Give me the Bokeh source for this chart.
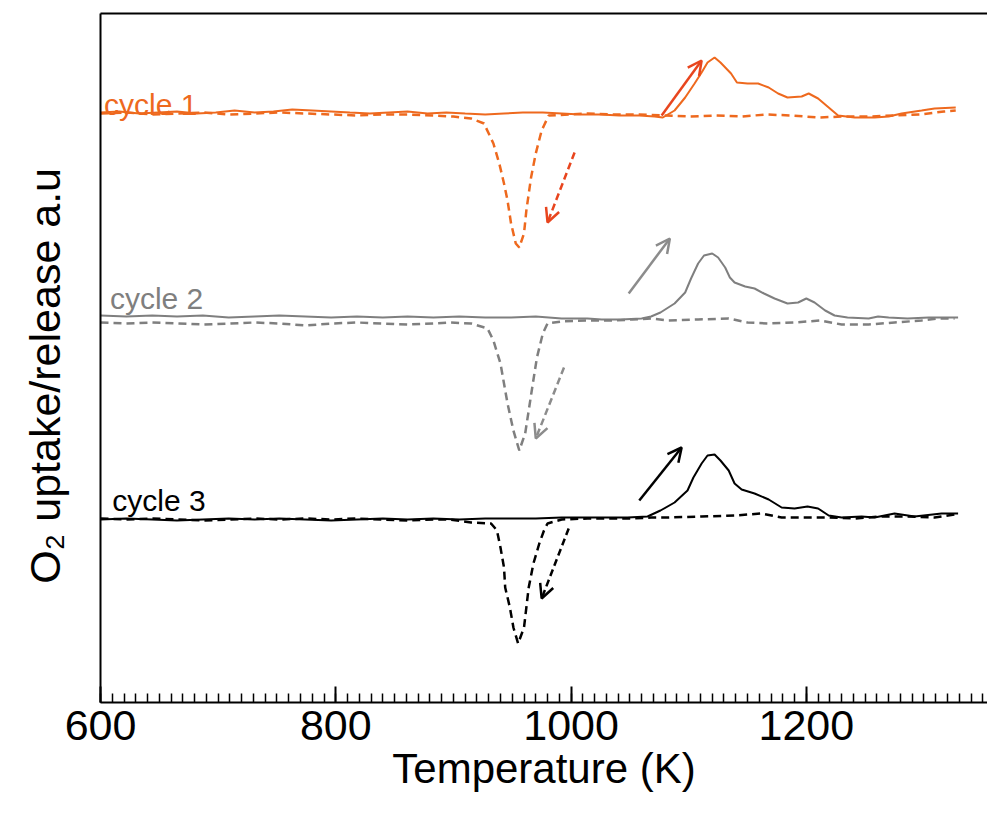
import numpy as np
from bokeh.plotting import figure
from bokeh.models import (Range1d, LinearAxis, SingleIntervalTicker, FixedTicker,
                          Label, Arrow, OpenHead)
from bokeh.embed import file_html
from bokeh.resources import INLINE

# ---------------- data (temperature in K, signal in a.u.) ----------------
c1_solid_T = [600, 616, 633, 649, 665, 682, 698, 714, 731, 747, 763, 780, 796, 812, 829, 845, 861, 878, 894, 910,
              927, 943, 959, 976, 992, 1008, 1025, 1041, 1058, 1071, 1078, 1088, 1097, 1105, 1111, 1116, 1122, 1127,
              1136, 1141, 1150, 1159, 1168, 1176, 1184, 1196, 1202, 1210, 1219, 1227, 1241, 1258, 1270, 1281, 1298,
              1309, 1327]
c1_solid = [.02, .03, .01, .02, .03, .01, .02, .04, .02, .03, .05, .04, .03, .02, .01, .02, .03, .01, .02, .01,
            0, .01, .02, .02, .01, 0, 0, -.01, -.01, -.02, -.03, .04, .17, .31, .42, .52, .57, .52,
            .41, .32, .31, .31, .27, .21, .17, .18, .21, .16, .07, -.01, -.03, -.03, -.02, .01, .04,
            .06, .07]

c1_dash_T = [600, 622, 644, 665, 687, 709, 731, 752, 774, 796, 818, 840, 861, 883, 900, 915, 926, 934, 939, 943,
             946, 949, 953, 956, 960, 962, 966, 970, 975, 977, 981, 998, 1014, 1036, 1058, 1079, 1101, 1123, 1145,
             1166, 1188, 1210, 1232, 1254, 1275, 1297, 1317, 1327]
c1_dash = [.01, .02, 0, .01, .02, 0, .01, .02, .01, 0, -.01, 0, 0, -.01, -.02, -.04, -.09, -.29, -.49, -.69,
           -.86, -1.09, -1.29, -1.33, -1.19, -.96, -.63, -.39, -.16, -.11, -.01, 0, .01, 0, 0, -.01, -.02, -.01, -.02,
           0, -.01, -.03, -.02, -.02, -.01, 0, .03, .04]

c2_solid_T = [600, 622, 644, 665, 687, 709, 731, 752, 774, 796, 818, 840, 861, 883, 905, 927, 949, 970, 992, 1014,
              1026, 1042, 1060, 1068, 1076, 1088, 1097, 1102, 1108, 1113, 1120, 1125, 1131, 1135, 1139, 1148, 1156,
              1164, 1173, 1184, 1193, 1200, 1207, 1216, 1224, 1235, 1253, 1261, 1270, 1286, 1304, 1329]
c2_solid = [.02, .01, .02, .01, .02, 0, .01, .02, .01, 0, .01, 0, .01, 0, .01, 0, 0, .01, -.01, -.01,
            -.02, -.02, -.01, .01, .05, .14, .25, .39, .54, .62, .64, .60, .50, .40, .35, .31, .29,
            .24, .19, .14, .15, .19, .15, .07, .02, 0, -.01, .01, 0, -.01, 0, 0]

c2_dash_T = [600, 622, 644, 665, 687, 709, 731, 752, 774, 796, 818, 840, 861, 883, 897, 915, 929, 934, 940, 943,
             946, 951, 956, 961, 964, 967, 971, 976, 980, 992, 1014, 1036, 1052, 1068, 1083, 1108, 1134, 1150, 1168,
             1190, 1212, 1230, 1253, 1275, 1298, 1312, 1326]
c2_dash = [-.05, -.06, -.05, -.06, -.07, -.06, -.05, -.06, -.08, -.06, -.05, -.06, -.07, -.06, -.05, -.06, -.11,
           -.23, -.46, -.66, -.86, -1.13, -1.33, -1.16, -.93, -.70, -.40, -.16, -.06, -.04, -.03, -.03, -.02, -.01,
           -.03, -.02, -.01, -.05, -.06, -.05, -.03, -.07, -.07, -.05, -.03, -.01, -.01]

c3_solid_T = [600, 622, 644, 665, 687, 709, 731, 752, 774, 796, 818, 840, 861, 883, 905, 927, 949, 970, 992, 1014,
              1026, 1048, 1065, 1076, 1088, 1099, 1104, 1111, 1116, 1122, 1127, 1134, 1139, 1145, 1156, 1168, 1179,
              1190, 1201, 1210, 1219, 1230, 1247, 1258, 1275, 1292, 1315, 1329]
c3_solid = [0, .01, 0, -.01, 0, .01, 0, .01, 0, -.01, 0, .01, 0, .01, 0, .01, .01, .01, .02, .02,
            .02, .02, .03, .09, .17, .29, .42, .56, .64, .65, .59, .49, .36, .30, .26, .20, .12,
            .11, .13, .11, .04, .02, .03, .02, .06, .03, .06, .06]

c3_dash_T = [600, 622, 644, 665, 687, 709, 731, 752, 774, 796, 818, 840, 861, 883, 897, 915, 932, 937, 940, 943,
             944, 948, 951, 955, 960, 962, 964, 968, 973, 977, 980, 992, 1014, 1036, 1052, 1068, 1083, 1111, 1139,
             1162, 1179, 1201, 1219, 1241, 1263, 1286, 1309, 1326]
c3_dash = [.01, 0, .01, 0, -.01, 0, .01, 0, .01, 0, .01, 0, -.01, 0, 0, -.03, -.04, -.11, -.28, -.48,
           -.68, -.88, -1.08, -1.24, -1.08, -.88, -.68, -.44, -.24, -.11, -.04, 0, .01, .01, .01, .02, .02, .03, .04,
           .06, .02, .02, .02, .01, .03, .03, .02, .05]

cycle_names = ["cycle 1", "cycle 2", "cycle 3"]
cycle_offsets = [5.88, 3.85, 1.83]          # vertical stacking of the cycles (a.u.)
label_T = [603, 608, 610]
label_sig = [0.10, 0.19, 0.19]

# arrows: (T_start, sig_start, T_end, sig_end)
uptake_arrows = [(1077, -0.01, 1111, 0.54), (1049, 0.24, 1084, 0.79), (1058, 0.19, 1094, 0.72)]
release_arrows = [(1003, -0.38, 980, -1.08), (994, -0.50, 970, -1.21), (998, -0.09, 975, -0.79)]

x_title = "Temperature (K)"
y_title = "O\u2082 uptake/release a.u\u00a0\u00a0\u00a0"

line_colors = ["#EE691E", "#7F7F7F", "#000000"]
arrow_colors = ["#E8451E", "#8C8C8C", "#000000"]

FONT = "Liberation Sans"

# ---------------- figure ----------------
p = figure(width=987, height=816, output_backend="svg", toolbar_location=None,
           x_range=Range1d(600, 1354), y_range=Range1d(0, 6.89),
           x_axis_location=None, y_axis_location=None,
           min_border_left=100, min_border_right=0, min_border_top=13, min_border_bottom=114)
p.outline_line_color = None
p.grid.visible = False
p.background_fill_color = "white"
p.border_fill_color = "white"

bottom = LinearAxis(ticker=SingleIntervalTicker(interval=200, num_minor_ticks=20))
bottom.axis_line_width = 2
bottom.major_tick_in = 16
bottom.major_tick_out = 0
bottom.minor_tick_in = 9
bottom.minor_tick_out = 0
bottom.major_tick_line_width = 2
bottom.minor_tick_line_width = 1.5
bottom.major_label_text_font = FONT
bottom.major_label_text_font_size = "43px"
bottom.major_label_text_color = "black"
bottom.major_label_standoff = 8
bottom.axis_label = x_title
bottom.axis_label_text_font = FONT
bottom.axis_label_text_font_size = "42px"
bottom.axis_label_text_font_style = "normal"
bottom.axis_label_text_color = "black"
bottom.axis_label_standoff = 2
p.add_layout(bottom, "below")

left = LinearAxis(ticker=FixedTicker(ticks=[]))
left.axis_line_width = 2
left.major_tick_line_color = None
left.minor_tick_line_color = None
left.major_label_text_font_size = "0px"
left.axis_label = y_title
left.axis_label_text_font = FONT
left.axis_label_text_font_size = "43px"
left.axis_label_text_font_style = "normal"
left.axis_label_text_color = "black"
left.axis_label_standoff = 32
p.add_layout(left, "left")

top = LinearAxis(ticker=FixedTicker(ticks=[]))
top.axis_line_width = 2
top.major_tick_line_color = None
top.minor_tick_line_color = None
top.major_label_text_font_size = "0px"
p.add_layout(top, "above")

solids = [(c1_solid_T, c1_solid), (c2_solid_T, c2_solid), (c3_solid_T, c3_solid)]
dashes = [(c1_dash_T, c1_dash), (c2_dash_T, c2_dash), (c3_dash_T, c3_dash)]

for i in range(3):
    off = cycle_offsets[i]
    T, s = solids[i]
    p.line(x=T, y=[v + off for v in s], line_color=line_colors[i], line_width=2)
    T, s = dashes[i]
    p.line(x=T, y=[v + off for v in s], line_color=line_colors[i], line_width=2.5, line_dash="8 5")

    xs, ys, xe, ye = uptake_arrows[i]
    p.add_layout(Arrow(x_start=xs, y_start=ys + off, x_end=xe, y_end=ye + off,
                       line_color=arrow_colors[i], line_width=2.5,
                       end=OpenHead(size=14, line_width=2.5, line_color=arrow_colors[i])))
    xs, ys, xe, ye = release_arrows[i]
    p.add_layout(Arrow(x_start=xs, y_start=ys + off, x_end=xe, y_end=ye + off,
                       line_color=arrow_colors[i], line_width=2.5, line_dash="7 4",
                       end=OpenHead(size=14, line_width=2.5, line_color=arrow_colors[i])))

    p.add_layout(Label(x=label_T[i], y=off + label_sig[i], text=cycle_names[i],
                       text_font=FONT, text_font_size="30px", text_color=line_colors[i],
                       text_align="left", text_baseline="alphabetic"))

open("out.html", "w").write(file_html(p, INLINE))
